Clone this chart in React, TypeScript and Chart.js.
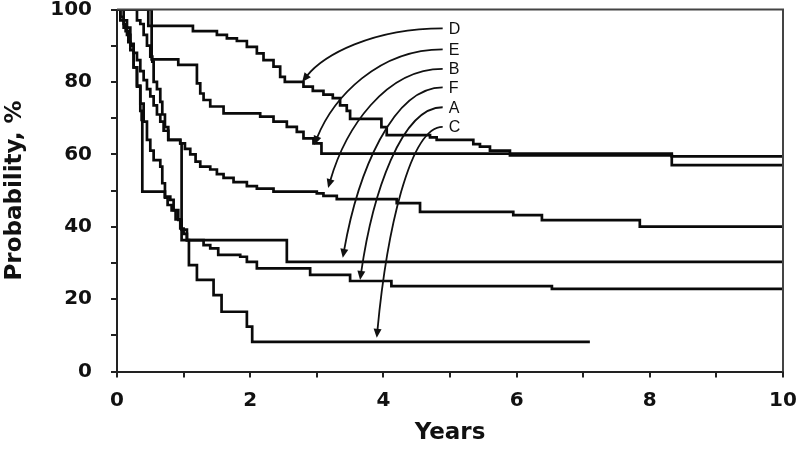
import React, { useEffect, useRef } from 'react';
import { Chart, registerables } from 'chart.js';

Chart.register(...registerables);

// ---- Data (years, survival %) ----
const dTimes = [0, 0.47, 1.14, 1.5, 1.65, 1.8, 1.95, 2.1, 2.2, 2.35, 2.45, 2.52, 2.8, 2.94, 3.1, 3.24, 3.35, 3.45, 3.5, 3.97, 4.05, 4.7, 4.8, 5.35, 5.45, 5.6, 5.9, 8.33, 10];
const dValues = [100, 95.5, 94, 93, 92, 91.3, 89.7, 87.9, 86, 84.2, 81.4, 80, 78.7, 77.5, 76.5, 75.5, 73.5, 72, 69.8, 67.5, 65.3, 64.7, 64, 62.8, 62.1, 61, 59.7, 57, 57];

const eTimes = [0, 0.52, 0.92, 1.2, 1.25, 1.3, 1.4, 1.6, 2.15, 2.35, 2.55, 2.7, 2.8, 2.95, 3.07, 8.33, 10];
const eValues = [100, 86.2, 84.7, 79.6, 76.8, 75, 73.2, 71.3, 70.4, 69, 67.6, 66.2, 64.4, 63, 60.2, 59.4, 59.4];

const bTimes = [0, 0.05, 0.1, 0.15, 0.2, 0.25, 0.3, 0.35, 0.4, 0.45, 0.5, 0.55, 0.6, 0.65, 0.7, 0.77, 0.95, 1.02, 1.1, 1.18, 1.25, 1.4, 1.5, 1.6, 1.75, 1.95, 2.1, 2.35, 3.0, 3.1, 3.3, 4.2, 4.55, 5.95, 6.38, 7.85, 10];
const bValues = [100, 97, 95, 93, 90.5, 88, 86, 83, 80.5, 78, 76, 73.5, 71, 69, 66.5, 64, 63, 61.5, 60, 58, 56.6, 55.8, 54.5, 53.5, 52.3, 51.2, 50.5, 49.7, 49.2, 48.5, 47.6, 46.5, 44.1, 43.2, 41.8, 40, 40];

const fTimes = [0, 0.3, 0.35, 0.4, 0.45, 0.5, 0.53, 0.55, 0.6, 0.65, 0.68, 0.72, 0.77, 0.95, 0.97, 2.55, 10];
const fValues = [100, 97, 96, 93, 90, 87, 85.6, 80, 78, 74.5, 71, 67.5, 64, 63, 36.3, 30.3, 30.3];

const aTimes = [0, 0.05, 0.1, 0.13, 0.17, 0.2, 0.25, 0.3, 0.35, 0.4, 0.45, 0.5, 0.55, 0.65, 0.68, 0.72, 0.8, 0.85, 0.92, 0.97, 1.05, 1.3, 1.4, 1.52, 1.85, 1.95, 2.1, 2.9, 3.5, 4.12, 6.53, 10];
const aValues = [100, 98, 96, 94, 91, 88.8, 84, 79, 74, 69, 64, 61, 58.4, 56.6, 52, 48.3, 47.4, 44.6, 41.9, 39.2, 36.3, 34.9, 34, 32.2, 31.7, 30.3, 28.5, 26.7, 25, 23.6, 22.8, 22.8];

const cTimes = [0, 0.1, 0.15, 0.2, 0.25, 0.3, 0.35, 0.37, 0.38, 0.72, 0.76, 0.82, 0.88, 0.95, 1.0, 1.05, 1.08, 1.2, 1.45, 1.57, 1.95, 2.03, 7.1];
const cValues = [100, 97, 95, 90, 84, 78.7, 72, 69.5, 49.7, 48, 46, 44.5, 42, 39.5, 38, 36.3, 29.4, 25.3, 21.1, 16.5, 12.4, 8.2, 8.2];

// ---- Annotation labels / arrows (data units) ----
const arrowLabels = ['D', 'E', 'B', 'F', 'A', 'C'];
const arrowLabelYs = [94.8, 89, 83.6, 78.5, 73, 67.6];
const arrowStartX = 4.89;
const arrowTextX = 4.98;
const arrowTipXs = [2.78, 2.96, 3.17, 3.39, 3.65, 3.9];
const arrowTipYs = [80, 62.6, 50.7, 31.4, 25.3, 9.3];

const xTickValues = [0, 2, 4, 6, 8, 10];
const yTickValues = [0, 20, 40, 60, 80, 100];

const toPoints = (t: number[], v: number[]) => t.map((tt, i) => ({ x: tt, y: v[i] }));

const seriesList = [
  { name: 'D', t: dTimes, v: dValues },
  { name: 'E', t: eTimes, v: eValues },
  { name: 'B', t: bTimes, v: bValues },
  { name: 'F', t: fTimes, v: fValues },
  { name: 'A', t: aTimes, v: aValues },
  { name: 'C', t: cTimes, v: cValues },
];

const FONT = 'DejaVu Sans';

const frameAndArrows = {
  id: 'frameAndArrows',
  afterDraw(chart: any) {
    const { ctx, chartArea, scales } = chart;
    const xs = scales.x;
    const ys = scales.y;
    ctx.save();
    ctx.strokeStyle = '#444';
    ctx.lineWidth = 2;
    ctx.beginPath();
    ctx.moveTo(chartArea.left, chartArea.top);
    ctx.lineTo(chartArea.right, chartArea.top);
    ctx.lineTo(chartArea.right, chartArea.bottom);
    ctx.stroke();

    ctx.strokeStyle = '#111';
    ctx.fillStyle = '#111';
    ctx.lineWidth = 1.8;
    for (let i = 0; i < arrowLabels.length; i++) {
      const sx = xs.getPixelForValue(arrowStartX);
      const sy = ys.getPixelForValue(arrowLabelYs[i]);
      const tx = xs.getPixelForValue(arrowTipXs[i]);
      const ty = ys.getPixelForValue(arrowTipYs[i]);
      const dx = sx - tx;
      const dy = ty - sy;
      const c1x = sx - 0.5 * dx, c1y = sy;
      const c2x = tx + 0.15 * dx, c2y = ty - 0.5 * dy;
      const ang = Math.atan2(ty - c2y, tx - c2x);
      const L = 9, W = 4;
      const ex = tx - (L - 2) * Math.cos(ang);
      const ey = ty - (L - 2) * Math.sin(ang);
      ctx.beginPath();
      ctx.moveTo(sx, sy);
      ctx.bezierCurveTo(c1x, c1y, c2x, c2y, ex, ey);
      ctx.stroke();
      const bx = tx - L * Math.cos(ang), by = ty - L * Math.sin(ang);
      ctx.beginPath();
      ctx.moveTo(tx, ty);
      ctx.lineTo(bx + W * Math.sin(ang), by - W * Math.cos(ang));
      ctx.lineTo(bx - W * Math.sin(ang), by + W * Math.cos(ang));
      ctx.closePath();
      ctx.fill();

      ctx.font = '16px "Liberation Sans", Arial, sans-serif';
      ctx.textAlign = 'left';
      ctx.textBaseline = 'middle';
      ctx.fillText(arrowLabels[i], xs.getPixelForValue(arrowTextX), sy + 1);
    }
    ctx.restore();
  },
};

export default function App() {
  const ref = useRef<HTMLCanvasElement | null>(null);
  useEffect(() => {
    if (!ref.current) return;
    const chart = new Chart(ref.current, {
      type: 'line',
      data: {
        datasets: seriesList.map((s) => ({
          label: s.name,
          data: toPoints(s.t, s.v),
          stepped: true,
          borderColor: '#0a0a0a',
          borderWidth: 2.7,
          pointRadius: 0,
          fill: false,
        })),
      },
      options: {
        animation: false,
        responsive: false,
        devicePixelRatio: 1,
        layout: { padding: { left: 0, right: 17, top: 9.5, bottom: 0 } },
        plugins: { legend: { display: false }, tooltip: { enabled: false } },
        scales: {
          x: {
            type: 'linear',
            min: 0,
            max: 10,
            afterFit: (a: any) => {
              a.height = 77.5;
              a.paddingLeft = 0;
              a.paddingRight = 0;
            },
            afterBuildTicks: (a: any) => {
              a.ticks = [0, 1, 2, 3, 4, 5, 6, 7, 8, 9, 10].map((v) => ({ value: v }));
            },
            ticks: {
              autoSkip: false,
              maxRotation: 0,
              padding: 13,
              color: '#111',
              font: { family: FONT, weight: 'bold', size: 20, lineHeight: 1 },
              callback: (v: any) => (xTickValues.includes(Number(v)) ? String(v) : ''),
            },
            grid: { drawOnChartArea: false, tickLength: 6, color: '#222', lineWidth: 2 },
            border: { color: '#222', width: 2 },
            title: {
              display: true,
              text: 'Years',
              color: '#111',
              font: { family: FONT, weight: 'bold', size: 23, lineHeight: 1.2 },
              padding: { top: 0, bottom: 2 },
            },
          },
          y: {
            type: 'linear',
            min: 0,
            max: 100,
            afterFit: (a: any) => {
              a.width = 117;
              a.paddingTop = 0;
              a.paddingBottom = 0;
            },
            afterBuildTicks: (a: any) => {
              a.ticks = [0, 10, 20, 30, 40, 50, 60, 70, 80, 90, 100].map((v) => ({ value: v }));
            },
            ticks: {
              padding: 19,
              color: '#111',
              font: { family: FONT, weight: 'bold', size: 20, lineHeight: 1 },
              callback: (v: any) => (yTickValues.includes(Number(v)) ? String(v) : ''),
            },
            grid: { drawOnChartArea: false, tickLength: 6, color: '#222', lineWidth: 2 },
            border: { color: '#222', width: 2 },
            title: {
              display: true,
              text: 'Probability, %',
              color: '#111',
              font: { family: FONT, weight: 'bold', size: 23, lineHeight: 1.2 },
              padding: { top: 1, bottom: 0 },
            },
          },
        },
      },
      plugins: [frameAndArrows],
    } as any);
    return () => chart.destroy();
  }, []);
  return (
    <div style={{ position: 'absolute', left: 0, top: 0, width: 800, height: 449, background: '#fff' }}>
      <canvas ref={ref} width={800} height={449} style={{ display: 'block' }} />
    </div>
  );
}
